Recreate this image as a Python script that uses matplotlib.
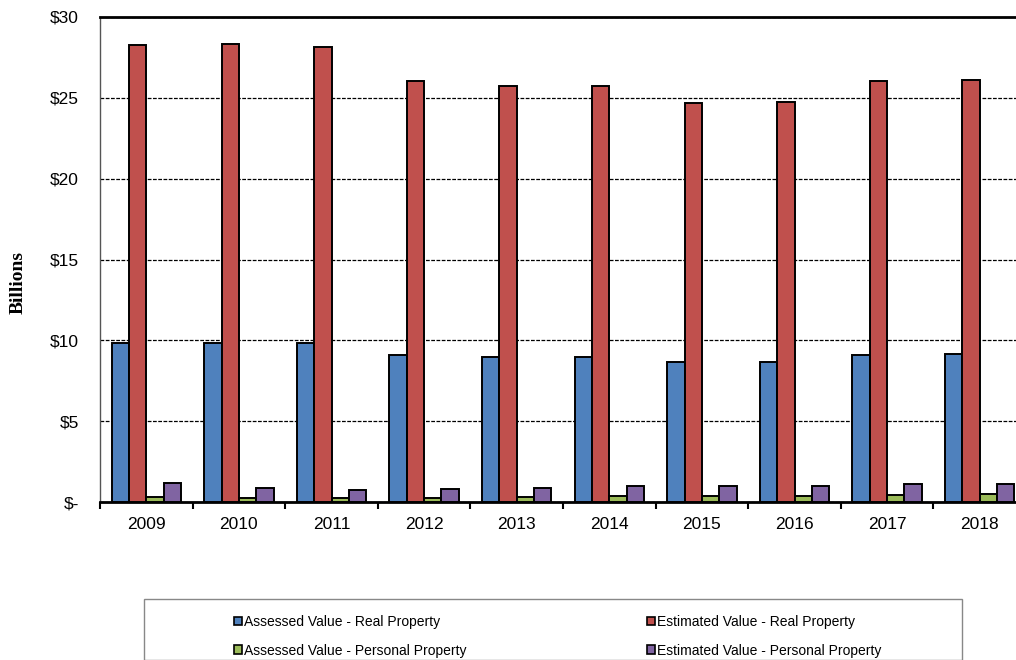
import matplotlib
matplotlib.use("Agg")
import matplotlib.pyplot as plt
import numpy as np
from matplotlib.patches import Patch, Rectangle

years = ["2009", "2010", "2011", "2012", "2013", "2014", "2015", "2016", "2017", "2018"]
assessed_real = [9.85, 9.85, 9.81, 9.11, 8.99, 8.99, 8.64, 8.64, 9.11, 9.15]
estimated_real = [28.26, 28.3, 28.14, 26.04, 25.72, 25.72, 24.7, 24.72, 26.02, 26.1]
assessed_personal = [0.33, 0.27, 0.27, 0.27, 0.33, 0.37, 0.37, 0.39, 0.45, 0.49]
estimated_personal = [1.15, 0.87, 0.76, 0.78, 0.89, 0.97, 0.99, 1.01, 1.09, 1.13]

series_names = [
    "Assessed Value - Real Property",
    "Estimated Value - Real Property",
    "Assessed Value - Personal Property",
    "Estimated Value - Personal Property",
]
series_colors = ["#4F81BD", "#C0504D", "#9BBB59", "#8064A2"]

y_ticks = [0, 5, 10, 15, 20, 25, 30]
y_tick_labels = ["$-", "$5", "$10", "$15", "$20", "$25", "$30"]

W, H = 1016, 660
plt.rcParams["font.family"] = ["Liberation Sans", "DejaVu Sans"]
fig = plt.figure(figsize=(W / 100, H / 100), dpi=100)

ax_left, ax_right, ax_top, ax_bottom = 100, 1026, 17, 502
ax = fig.add_axes([ax_left / W, 1 - ax_bottom / H,
                   (ax_right - ax_left) / W, (ax_bottom - ax_top) / H])

x = np.arange(len(years))
bw = 0.1875
all_series = [assessed_real, estimated_real, assessed_personal, estimated_personal]
for k, (vals, col) in enumerate(zip(all_series, series_colors)):
    ax.bar(x + (k - 1.5) * bw, vals, width=bw, color=col,
           edgecolor="black", linewidth=1.4, zorder=3)

ax.set_xlim(-0.5, len(years) - 0.5)
ax.set_ylim(0, 30)

ax.set_yticks(y_ticks)
ax.set_yticklabels(y_tick_labels, fontsize=12.5)
ax.tick_params(axis="y", length=0, pad=15)
ax.yaxis.grid(True, linestyle=(0, (3, 1.2)), color="black", linewidth=0.9, zorder=0)

ax.set_xticks(x)
ax.set_xticklabels(years, fontsize=12.5)
ax.set_xticks(np.arange(-0.5, len(years), 1.0), minor=True)
ax.tick_params(axis="x", which="major", length=0, pad=11)
ax.tick_params(axis="x", which="minor", length=5, width=1.5, direction="out", color="black")

for side in ["top", "bottom"]:
    ax.spines[side].set_linewidth(2.0)
    ax.spines[side].set_color("black")
ax.spines["left"].set_linewidth(1.0)
ax.spines["left"].set_color("#555555")
ax.spines["right"].set_visible(False)

fig.text(18 / W, 1 - 282 / H, "Billions", rotation=90, ha="center", va="center",
         fontsize=14, fontweight="bold", family=["Liberation Serif", "DejaVu Serif"])

# Legend frame and two columns of entries
fig.patches.append(Rectangle((144 / W, 0), (962 - 144) / W, 1 - 599 / H,
                             transform=fig.transFigure, fill=False,
                             edgecolor="#888888", linewidth=1.0))
handles = [Patch(facecolor=c, edgecolor="black", linewidth=1.2) for c in series_colors]
common = dict(frameon=False, fontsize=10, handlelength=0.6, handleheight=0.6,
              handletextpad=0.1, labelspacing=1.05, borderpad=0, loc="upper left")
fig.legend([handles[0], handles[2]], [series_names[0], series_names[2]],
           bbox_to_anchor=(227 / W, 1 - 608 / H), **common)
fig.legend([handles[1], handles[3]], [series_names[1], series_names[3]],
           bbox_to_anchor=(640 / W, 1 - 608 / H), **common)

fig.savefig("out.png", dpi=100)
